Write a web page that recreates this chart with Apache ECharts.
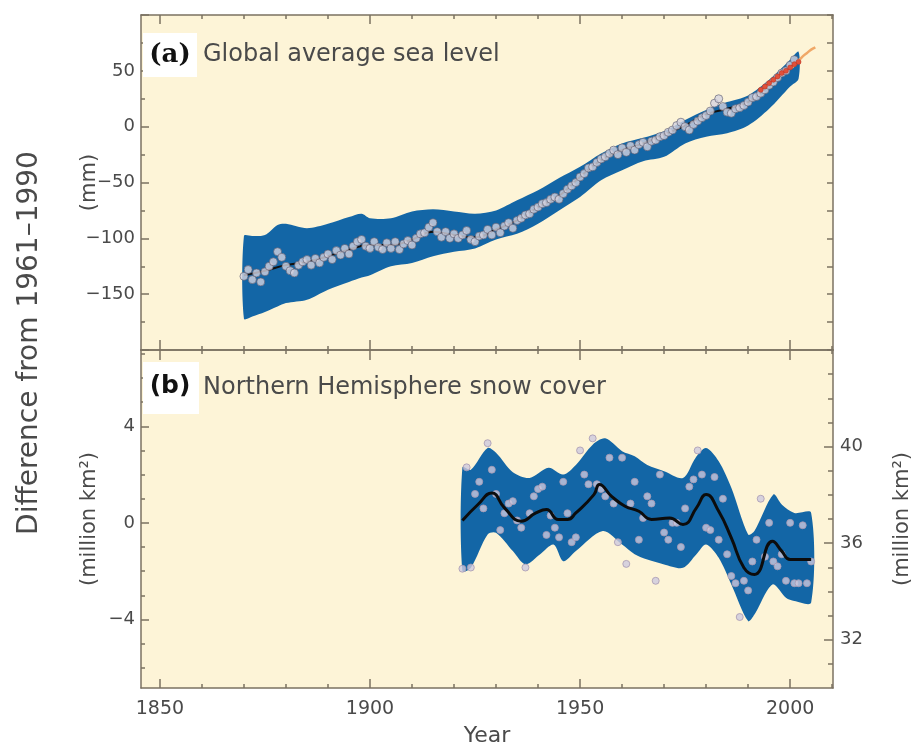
<!DOCTYPE html>
<html><head><meta charset="utf-8">
<script src="https://cdn.jsdelivr.net/npm/echarts@6/dist/echarts.min.js"></script>
<style>html,body{margin:0;padding:0;background:#fff}#c{width:919px;height:743px}</style>
</head><body><div id="c"></div>
<script>
// ---------- DATA ----------
// (a) Global average sea level, annual values (mm), 1870-2001
const seaStartYear = 1870;
const seaLevelAnnual = [
  -134,-128,-137,-131,-139,-130,-125,-121,-112,-117,
  -125,-129,-131,-124,-121,-119,-124,-118,-122,-117,
  -114,-119,-111,-115,-109,-114,-107,-103,-101,-107,
  -109,-103,-108,-110,-104,-109,-103,-110,-105,-102,
  -106,-100,-96,-95,-90,-86,-94,-99,-94,-100,
  -96,-100,-97,-93,-101,-103,-98,-97,-92,-97,
  -90,-95,-89,-86,-91,-84,-82,-79,-78,-74,
  -72,-69,-68,-65,-63,-65,-60,-56,-53,-50,
  -45,-42,-37,-36,-32,-29,-27,-24,-21,-25,
  -19,-23,-17,-21,-16,-14,-18,-13,-12,-9,
  -8,-5,-3,1,4,0,-3,2,5,8,
  10,14,21,25,18,13,12,16,17,19,
  22,26,27,30,33,37,40,44,48,50,
  55,60
];
// smoothed curve (mm)
const seaSmoothYears = [1870,1875,1880,1885,1890,1895,1900,1905,1910,1915,1920,1925,1930,1935,1940,1945,1950,1955,1960,1965,1970,1975,1980,1985,1990,1995,2000];
const seaSmooth      = [-133,-129,-124,-121,-116,-110,-106,-106,-101,-94,-97,-99,-92,-84,-72,-62,-45,-30,-21,-15,-7,1,11,16,22,37,54];
// uncertainty band (mm)
const seaBandYears = [1870,1872,1875,1878,1880,1885,1890,1895,1898,1900,1905,1910,1915,1920,1925,1930,1935,1940,1945,1950,1955,1960,1965,1970,1975,1980,1985,1990,1995,2000,2002];
const seaBandUpper = [-98,-98,-97,-88,-87,-91,-87,-81,-78,-82,-82,-76,-74,-76,-78,-75,-66,-57,-46,-36,-24,-15,-10,-4,6,15,22,28,42,60,67];
const seaBandLower = [-172,-170,-166,-161,-158,-155,-146,-139,-135,-133,-125,-122,-116,-112,-109,-101,-96,-87,-75,-63,-48,-39,-31,-27,-15,-9,-6,1,16,36,43];
// satellite altimetry (red) and recent extension (orange), mm
const satYears  = [1993,1994,1995,1996,1997,1998,1999,2000,2001,2002];
const satValues = [33,36,39,42,45,48,50,53,56,58];
const extYears  = [2000,2001,2002,2003,2004,2005,2006];
const extValues = [52,55,59,63,66,69,71];

// (b) Northern Hemisphere snow cover, annual anomalies (million km2), 1922-2005
const snowStartYear = 1922;
const snowAnnual = [
  -1.9,2.3,-1.85,1.2,1.7,0.6,3.3,2.2,1.2,-0.3,
  0.4,0.8,0.9,0.1,-0.2,-1.85,0.4,1.1,1.4,1.5,
  -0.5,0.3,-0.2,-0.6,1.7,0.4,-0.8,-0.6,3.0,2.0,
  1.6,3.5,1.6,1.4,1.1,2.7,0.8,-0.8,2.7,-1.7,
  0.8,1.7,-0.7,0.2,1.1,0.8,-2.4,2.0,-0.4,-0.7,
  0.0,0.0,-1.0,0.6,1.5,1.8,3.0,2.0,-0.2,-0.3,
  1.9,-0.7,1.0,-1.3,-2.2,-2.5,-3.9,-2.4,-2.8,-1.6,
  -0.7,1.0,-1.4,0.0,-1.6,-1.8,-1.3,-2.4,0.0,-2.5,
  -2.5,-0.1,-2.5,-1.6
];
const snowSmoothYears = [1922,1925.7,1929,1932,1936,1939.5,1942,1944.8,1947,1949,1953.3,1954.6,1957.5,1960.7,1964,1967,1971.3,1974.5,1977.7,1980,1983,1986,1989,1991.5,1995.8,1998,2000,2005];
const snowSmooth      = [0.1,0.76,1.24,0.62,0.07,0.41,0.55,0.14,0.14,0.41,1.17,1.59,1.1,0.69,0.48,0.14,0.2,-0.07,0.62,1.17,0.48,-0.62,-1.86,-2.14,-0.76,-1.17,-1.52,-1.52];
const snowUpperYears = [1922,1924,1928,1930,1934,1938,1942.5,1946,1949,1953,1956,1960,1963,1966,1970,1974.5,1977.5,1980,1983,1986,1990,1991.5,1996,1998,2001,2005];
const snowUpper      = [2.3,2.2,3.1,2.9,2.1,1.86,2.28,2.0,2.4,3.24,3.5,2.97,2.76,2.4,2.14,1.86,2.7,3.1,2.55,1.45,-0.48,-0.34,1.17,0.76,0.41,0.41];
const snowLowerYears = [1922,1924,1928,1930,1934,1937,1940.5,1943.7,1946,1949,1955.4,1960,1963,1966,1970,1974.5,1977.7,1980,1983,1986,1990,1991.5,1995.8,1999,2001,2005];
const snowLower      = [-2.0,-1.86,-0.48,-0.41,-1.17,-1.72,-1.3,-0.9,-1.59,-1.17,-0.34,-0.9,-1.3,-1.52,-1.72,-1.86,-1.3,-0.9,-1.45,-2.55,-4.07,-3.8,-2.55,-3.1,-3.24,-3.3];

// ticks and labels
const xMajorTicks = [1850,1900,1950,2000];
const xMinorTicks = [1860,1870,1880,1890,1910,1920,1930,1940,1960,1970,1980,1990,2010];
const xLabels = [1850,1900,1950,2000];
const snowLeftLabels = [-4,0,4];
const snowLeftMinor = [-6,-5,-3,-2,-1,1,2,3,5,6,7];
const snowRightLabels = [32,36,40];
const snowRightMinor = [31,33,34,35,37,38,39,41,42,43];

// ---------- STYLE ----------
const FONT = 'DejaVu Sans';
const TXT = '#4a4a4a';
const AX = '#7b7262';
const CREAM = '#fdf4d7';
const BLUE = '#1366a6';
const XMIN = 1845.5, XMAX = 2010.2;
const SNOW_L_MIN = -6.84, SNOW_L_MAX = 7.16, SNOW_R_MIN = 30, SNOW_R_MAX = 44;

const minus = v => (v < 0 ? '\u2212' + (-v) : String(v));
const line = {color: AX, width: 1.5};

function xAx(grid, pos, ticks, len, showLine, extra) {
  return Object.assign({
    gridIndex: grid, type: 'value', position: pos, min: XMIN, max: XMAX,
    axisLine: {show: showLine, onZero: false, lineStyle: line},
    axisTick: {show: true, inside: true, length: len, customValues: ticks, lineStyle: line},
    axisLabel: {show: false}, splitLine: {show: false}
  }, extra || {});
}

function bandRenderer(upY, upV, loY, loV) {
  return function (params, api) {
    const pts = [];
    for (let i = 0; i < upY.length; i++) pts.push(api.coord([upY[i], upV[i]]));
    for (let i = loY.length - 1; i >= 0; i--) pts.push(api.coord([loY[i], loV[i]]));
    return {type: 'polygon', shape: {points: pts, smooth: 0.3}, style: {fill: BLUE}};
  };
}

const chart = echarts.init(document.getElementById('c'), null, {renderer: 'canvas'});
const gTop = {left: 141, top: 15, width: 692, height: 335, outerBoundsMode: 'none', containLabel: false};
const gBot = {left: 141, top: 350, width: 692, height: 338, outerBoundsMode: 'none', containLabel: false};

chart.setOption({
  animation: false,
  backgroundColor: '#ffffff',
  textStyle: {fontFamily: FONT},
  grid: [
    Object.assign({show: true, backgroundColor: CREAM, borderWidth: 0}, gTop),
    Object.assign({show: false}, gTop),
    Object.assign({show: true, backgroundColor: CREAM, borderWidth: 0}, gBot),
    Object.assign({show: false}, gBot)
  ],
  xAxis: [
    xAx(0, 'bottom', xMajorTicks, 10, true),
    xAx(0, 'top', xMajorTicks, 9, true),
    xAx(1, 'bottom', xMinorTicks, 4, false),
    xAx(1, 'top', xMinorTicks, 4, false),
    xAx(2, 'bottom', xMajorTicks, 9, true, {
      axisLabel: {show: true, customValues: xLabels, margin: 12, fontSize: 19, color: TXT, fontFamily: FONT,
        formatter: v => String(v)},
      name: 'Year', nameLocation: 'middle', nameGap: 37, nameMoveOverlap: false,
      nameTextStyle: {fontSize: 22, color: TXT, fontFamily: FONT}
    }),
    xAx(2, 'top', xMajorTicks, 10, true),
    xAx(3, 'bottom', xMinorTicks, 4, false),
    xAx(3, 'top', xMinorTicks, 4, false)
  ],
  yAxis: [
    {gridIndex: 0, type: 'value', position: 'left', min: -200, max: 100, interval: 50,
     axisLine: {show: true, onZero: false, lineStyle: line},
     axisTick: {show: true, inside: true, length: 8, lineStyle: line},
     minorTick: {show: true, splitNumber: 2, length: 4, lineStyle: line},
     axisLabel: {margin: 6, fontSize: 18, color: TXT, fontFamily: FONT,
       formatter: v => (v === 100 || v === -200) ? '' : minus(v)},
     splitLine: {show: false},
     name: '(mm)', nameLocation: 'middle', nameGap: 41, nameMoveOverlap: false,
     nameTextStyle: {fontSize: 21, color: TXT, fontFamily: FONT}},
    {gridIndex: 0, type: 'value', position: 'right', min: -200, max: 100, interval: 25,
     axisLine: {show: true, onZero: false, lineStyle: line},
     axisTick: {show: true, inside: true, length: 6, lineStyle: line},
     axisLabel: {show: false}, splitLine: {show: false}},
    {gridIndex: 1, type: 'value', min: -200, max: 100, show: false},
    {gridIndex: 2, type: 'value', position: 'left', min: SNOW_L_MIN, max: SNOW_L_MAX,
     axisLine: {show: true, onZero: false, lineStyle: line},
     axisTick: {show: true, inside: true, length: 8, customValues: snowLeftLabels, lineStyle: line},
     axisLabel: {customValues: snowLeftLabels, margin: 6, fontSize: 18, color: TXT, fontFamily: FONT, formatter: minus},
     splitLine: {show: false},
     name: '(million km\u00b2)', nameLocation: 'middle', nameGap: 41, nameMoveOverlap: false,
     nameTextStyle: {fontSize: 21, color: TXT, fontFamily: FONT}},
    {gridIndex: 2, type: 'value', position: 'right', min: SNOW_R_MIN, max: SNOW_R_MAX,
     axisLine: {show: true, onZero: false, lineStyle: line},
     axisTick: {show: true, inside: true, length: 9, customValues: snowRightLabels, lineStyle: line},
     axisLabel: {customValues: snowRightLabels, margin: 7, fontSize: 18, color: TXT, fontFamily: FONT},
     splitLine: {show: false},
     name: '(million km\u00b2)', nameLocation: 'middle', nameGap: 59, nameMoveOverlap: false,
     nameTextStyle: {fontSize: 21, color: TXT, fontFamily: FONT}},
    {gridIndex: 3, type: 'value', position: 'left', min: SNOW_L_MIN, max: SNOW_L_MAX,
     axisLine: {show: false, onZero: false},
     axisTick: {show: true, inside: true, length: 4, customValues: snowLeftMinor, lineStyle: line},
     axisLabel: {show: false}, splitLine: {show: false}},
    {gridIndex: 3, type: 'value', position: 'right', min: SNOW_R_MIN, max: SNOW_R_MAX,
     axisLine: {show: false, onZero: false},
     axisTick: {show: true, inside: true, length: 5, customValues: snowRightMinor, lineStyle: line},
     axisLabel: {show: false}, splitLine: {show: false}}
  ],
  series: [
    {type: 'custom', xAxisIndex: 0, yAxisIndex: 0, silent: true, z: 1,
     renderItem: bandRenderer(seaBandYears, seaBandUpper, seaBandYears, seaBandLower),
     data: [[seaBandYears[0], seaBandUpper[0]]]},
    {type: 'line', xAxisIndex: 0, yAxisIndex: 0, z: 2, smooth: 0.5, showSymbol: false, silent: true,
     data: seaSmoothYears.map((y, i) => [y, seaSmooth[i]]),
     lineStyle: {color: '#111', width: 2}},
    {type: 'scatter', xAxisIndex: 0, yAxisIndex: 0, z: 3, symbolSize: 8, silent: true,
     data: seaLevelAnnual.map((v, i) => [seaStartYear + i, v]),
     itemStyle: {color: '#d4d3e0', borderColor: '#5a5a6e', borderWidth: 0.8}},
    {type: 'line', xAxisIndex: 0, yAxisIndex: 0, z: 4, smooth: 0.3, showSymbol: false, silent: true,
     data: extYears.map((y, i) => [y, extValues[i]]),
     lineStyle: {color: '#f0a868', width: 2.5}},
    {type: 'line', xAxisIndex: 0, yAxisIndex: 0, z: 5, symbol: 'circle', symbolSize: 5, silent: true,
     data: satYears.map((y, i) => [y, satValues[i]]),
     lineStyle: {color: '#d8402c', width: 1.5}, itemStyle: {color: '#e0503a', borderColor: '#b83020', borderWidth: 0.5}},

    {type: 'custom', xAxisIndex: 4, yAxisIndex: 3, silent: true, z: 1,
     renderItem: bandRenderer(snowUpperYears, snowUpper, snowLowerYears, snowLower),
     data: [[snowUpperYears[0], snowUpper[0]]]},
    {type: 'scatter', xAxisIndex: 4, yAxisIndex: 3, z: 3, symbolSize: 7, silent: true,
     data: snowAnnual.map((v, i) => [snowStartYear + i, v]),
     itemStyle: {color: '#cdc9de', borderColor: '#a898b2', borderWidth: 1}},
    {type: 'line', xAxisIndex: 4, yAxisIndex: 3, z: 4, smooth: 0.5, showSymbol: false, silent: true,
     data: snowSmoothYears.map((y, i) => [y, snowSmooth[i]]),
     lineStyle: {color: '#0c0c0c', width: 3}}
  ],
  graphic: [
    {type: 'rect', z: 100, shape: {x: 143, y: 33, width: 54, height: 44}, style: {fill: '#ffffff'}},
    {type: 'text', z: 101, x: 170, y: 55, style: {text: '(a)', font: 'bold 26px "DejaVu Serif"', fill: '#111',
      align: 'center', verticalAlign: 'middle', textAlign: 'center', textVerticalAlign: 'middle'}},
    {type: 'text', z: 101, x: 203, y: 55, style: {text: 'Global average sea level', font: '24px "DejaVu Sans"', fill: TXT,
      align: 'left', verticalAlign: 'middle', textAlign: 'left', textVerticalAlign: 'middle'}},
    {type: 'rect', z: 100, shape: {x: 143, y: 362, width: 56, height: 52}, style: {fill: '#ffffff'}},
    {type: 'text', z: 101, x: 170, y: 386, style: {text: '(b)', font: 'bold 25px "DejaVu Sans"', fill: '#111',
      align: 'center', verticalAlign: 'middle', textAlign: 'center', textVerticalAlign: 'middle'}},
    {type: 'text', z: 101, x: 203, y: 388, style: {text: 'Northern Hemisphere snow cover', font: '24px "DejaVu Sans"', fill: TXT,
      align: 'left', verticalAlign: 'middle', textAlign: 'left', textVerticalAlign: 'middle'}},
    {type: 'text', z: 101, x: 30, y: 343, rotation: Math.PI / 2, style: {text: 'Difference from 1961\u20131990',
      font: '28px "DejaVu Sans"', fill: TXT, align: 'center', verticalAlign: 'middle', textAlign: 'center', textVerticalAlign: 'middle'}}
  ]
});
</script></body></html>
